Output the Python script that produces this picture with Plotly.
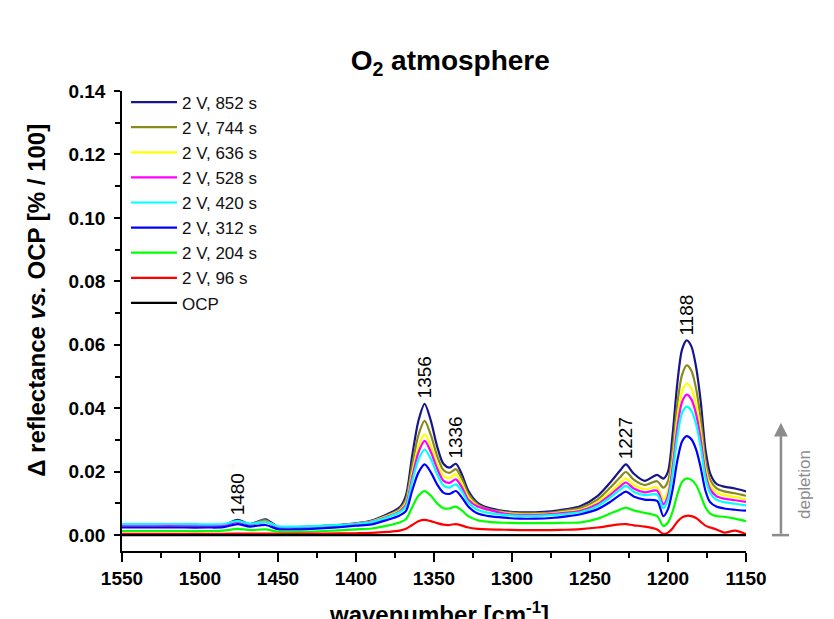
import plotly.graph_objects as go

# wavenumber grid [cm^-1]
wavenumber = [1550, 1530, 1510, 1495, 1485, 1476, 1468, 1458, 1450, 1440,
              1420, 1400, 1390, 1380, 1372, 1368, 1364, 1360, 1356, 1352,
              1348, 1344, 1340, 1336, 1332, 1328, 1322, 1315, 1305, 1295,
              1285, 1275, 1265, 1256, 1245, 1237, 1231, 1227, 1222, 1215,
              1207, 1203, 1200, 1197, 1194, 1191, 1188, 1185, 1182, 1179,
              1176, 1173, 1169, 1164, 1157, 1150]

s852 = [.0030, .0030, .0030, .0029, .0031, .0048, .0035, .0050, .0026, .0024,
        .0029, .0037, .0046, .0066, .0088, .0125, .0250, .0360, .0414, .0360,
        .0280, .0225, .0213, .0225, .0190, .0140, .0102, .0086, .0076, .0072,
        .0072, .0075, .0082, .0092, .0124, .0166, .0202, .0223, .0194, .0171,
        .0190, .0178, .0200, .0320, .0480, .0585, .0614, .0595, .0530, .0420,
        .0270, .0195, .0162, .0153, .0147, .0138]
s744 = [.0030, .0030, .0030, .0029, .0031, .0045, .0034, .0047, .0026, .0024,
        .0029, .0036, .0044, .0062, .0082, .0112, .0220, .0315, .0360, .0315,
        .0250, .0205, .0196, .0208, .0176, .0130, .0097, .0082, .0073, .0069,
        .0069, .0071, .0078, .0086, .0113, .0150, .0181, .0199, .0175, .0158,
        .0170, .0150, .0170, .0270, .0415, .0505, .0535, .0518, .0462, .0365,
        .0237, .0175, .0148, .0138, .0132, .0124]
s636 = [.0031, .0031, .0031, .0030, .0031, .0042, .0033, .0043, .0026, .0025,
        .0029, .0036, .0043, .0060, .0078, .0102, .0195, .0278, .0318, .0280,
        .0225, .0187, .0180, .0192, .0162, .0120, .0092, .0078, .0070, .0066,
        .0066, .0068, .0074, .0080, .0104, .0136, .0163, .0178, .0158, .0145,
        .0150, .0113, .0140, .0235, .0370, .0452, .0478, .0462, .0412, .0325,
        .0212, .0158, .0135, .0126, .0120, .0113]
s528 = [.0031, .0031, .0031, .0030, .0031, .0042, .0033, .0042, .0026, .0025,
        .0029, .0035, .0042, .0058, .0075, .0096, .0182, .0260, .0297, .0262,
        .0210, .0172, .0165, .0176, .0150, .0112, .0090, .0080, .0068, .0064,
        .0064, .0066, .0071, .0077, .0098, .0127, .0152, .0166, .0147, .0135,
        .0140, .0097, .0125, .0215, .0340, .0420, .0443, .0428, .0382, .0302,
        .0196, .0145, .0123, .0115, .0110, .0105]
s420 = [.0035, .0035, .0035, .0034, .0035, .0044, .0036, .0041, .0028, .0027,
        .0030, .0035, .0041, .0056, .0072, .0090, .0168, .0238, .0270, .0240,
        .0192, .0157, .0150, .0160, .0137, .0103, .0080, .0070, .0064, .0061,
        .0061, .0063, .0067, .0073, .0092, .0119, .0142, .0155, .0137, .0126,
        .0128, .0085, .0112, .0195, .0310, .0385, .0405, .0392, .0350, .0276,
        .0180, .0133, .0112, .0104, .0099, .0094]
s312 = [.0024, .0024, .0024, .0024, .0025, .0035, .0027, .0032, .0019, .0018,
        .0022, .0030, .0034, .0048, .0062, .0076, .0140, .0197, .0223, .0198,
        .0160, .0134, .0130, .0139, .0118, .0090, .0068, .0060, .0055, .0052,
        .0052, .0054, .0059, .0066, .0082, .0105, .0126, .0137, .0122, .0112,
        .0108, .0060, .0082, .0145, .0235, .0295, .0312, .0302, .0270, .0212,
        .0140, .0104, .0090, .0084, .0080, .0077]
s204 = [.0013, .0013, .0013, .0013, .0014, .0020, .0016, .0018, .0011, .0010,
        .0013, .0018, .0021, .0030, .0040, .0050, .0088, .0124, .0139, .0124,
        .0100, .0085, .0084, .0090, .0077, .0060, .0047, .0042, .0039, .0038,
        .0038, .0038, .0039, .0040, .0052, .0068, .0080, .0087, .0078, .0070,
        .0060, .0029, .0040, .0075, .0128, .0168, .0179, .0174, .0158, .0125,
        .0088, .0068, .0060, .0058, .0052, .0044]
s96 = [.0004, .0004, .0004, .0004, .0004, .0005, .0005, .0005, .0004, .0004,
       .0005, .0006, .0007, .0010, .0014, .0020, .0032, .0044, .0048, .0044,
       .0038, .0033, .0032, .0035, .0030, .0024, .0020, .0018, .0017, .0016,
       .0016, .0016, .0017, .0019, .0024, .0030, .0034, .0035, .0031, .0027,
       .0018, .0004, .0008, .0022, .0042, .0056, .0061, .0060, .0054, .0042,
       .0030, .0024, .0018, .0008, .0014, .0003]
ocp = [0.0] * len(wavenumber)

series_names = ["2 V, 852 s", "2 V, 744 s", "2 V, 636 s", "2 V, 528 s",
                "2 V, 420 s", "2 V, 312 s", "2 V, 204 s", "2 V, 96 s", "OCP"]
series_values = [s852, s744, s636, s528, s420, s312, s204, s96, ocp]
series_colors = ["#16168a", "#8a8a1a", "#ffff00", "#ff00ff", "#00ffff",
                 "#0000ff", "#00ff00", "#ff0000", "#000000"]

peak_labels = [1476, 1356, 1336, 1227, 1188]
peak_text = ["1480", "1356", "1336", "1227", "1188"]

FONT = "Arial, Liberation Sans, sans-serif"

fig = go.Figure()
for name, vals, col in zip(series_names, series_values, series_colors):
    fig.add_trace(go.Scatter(x=wavenumber, y=vals, mode="lines", name=name,
                             line=dict(color=col, width=2.2, shape="spline", smoothing=0.8)))

annotations = []
for w, t in zip(peak_labels, peak_text):
    i = wavenumber.index(w)
    top = max(v[i] for v in series_values)
    annotations.append(dict(x=w, y=top, xref="x", yref="y", text=t, showarrow=False,
                            textangle=-90, yanchor="bottom", xanchor="center", yshift=3,
                            font=dict(family=FONT, size=19, color="#000")))

# axis titles
annotations.append(dict(x=-0.137, y=0.545, xref="paper", yref="paper",
                        xanchor="center", yanchor="middle",
                        text="\u0394 reflectance <i>vs.</i> OCP [% / 100]", showarrow=False,
                        textangle=-90, font=dict(family=FONT, size=24, color="#000", weight="bold")))
annotations.append(dict(x=0.508, y=-0.097, xref="paper", yref="paper", yanchor="top",
                        xanchor="center",
                        text="wavenumber [cm<sup>-1</sup>]", showarrow=False,
                        font=dict(family=FONT, size=24, color="#000", weight="bold")))
# depletion arrow
annotations.append(dict(x=1.056, y=0.0354, xref="paper", yref="y", ax=0, ay=0,
                        axref="pixel", ayref="y", text="", showarrow=True,
                        arrowhead=2, arrowsize=1.1, arrowwidth=2.5, arrowcolor="#8c8c8c",
                        standoff=0, startstandoff=0))
annotations.append(dict(x=1.0946, y=0.1435, xref="paper", yref="paper", text="depletion",
                        xanchor="center", yanchor="middle",
                        showarrow=False, textangle=-90,
                        font=dict(family=FONT, size=17, color="#8c8c8c")))

fig.update_layout(
    width=834, height=619,
    margin=dict(l=122, r=88, t=91, b=68),
    paper_bgcolor="white", plot_bgcolor="white",
    title=dict(text="O<sub>2</sub> atmosphere", x=0.526, xref="paper", xanchor="center",
               y=0.903, yref="container", yanchor="middle",
               font=dict(family=FONT, size=28, color="#000", weight="bold")),
    showlegend=True,
    legend=dict(x=0.0064, y=1.014, xanchor="left", yanchor="top", bgcolor="rgba(0,0,0,0)",
                font=dict(family=FONT, size=17, color="#111"), traceorder="normal",
                tracegroupgap=0, itemwidth=46),
    annotations=annotations,
    shapes=[dict(type="line", xref="paper", yref="y", x0=1.0417, x1=1.069, y0=0, y1=0,
                 line=dict(color="#8c8c8c", width=2.5))],
)
fig.update_xaxes(range=[1550, 1150], showgrid=False, zeroline=False,
                 showline=True, linecolor="#000", linewidth=1.5,
                 ticks="outside", ticklen=9, tickwidth=1.5, tickcolor="#000",
                 tick0=1150, dtick=50,
                 minor=dict(ticks="outside", ticklen=5, tickwidth=1.5, tickcolor="#000", dtick=25),
                 tickfont=dict(family=FONT, size=19, color="#000", weight="bold"))
fig.update_yaxes(range=[-0.005, 0.14], showgrid=False, zeroline=False,
                 showline=True, linecolor="#000", linewidth=1.5,
                 ticks="outside", ticklen=6, tickwidth=1.5, tickcolor="#000",
                 tick0=0, dtick=0.02, tickformat=".2f",
                 minor=dict(ticks="outside", ticklen=5, tickwidth=1.5, tickcolor="#000", dtick=0.01),
                 ticklabelstandoff=5,
                 tickfont=dict(family=FONT, size=19, color="#000", weight="bold"))

fig.write_html("out.html")
